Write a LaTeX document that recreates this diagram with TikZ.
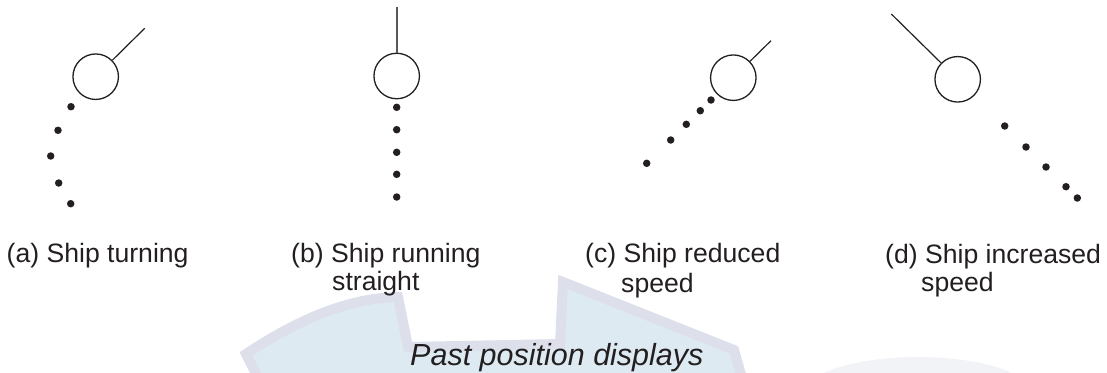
\documentclass[tikz,border=0pt]{standalone}
\usepackage{fontspec}
\setmainfont{Liberation Sans}
\definecolor{ink}{HTML}{231F20}
\definecolor{wmfill}{HTML}{DEEAF1}
\definecolor{wmband}{HTML}{DDE0EB}
\definecolor{wmfaint}{HTML}{F1F3F7}
\begin{document}
\begin{tikzpicture}[x=1pt,y=-1pt,
  ship/.style={circle,draw=ink,line width=1.3pt,minimum size=45.5pt,inner sep=0pt},
  pdot/.style={circle,fill=ink,minimum size=7.5pt,inner sep=0pt},
  hdg/.style={draw=ink,line width=1.2pt},
  hdgb/.style={draw=ink!75,line width=1.7pt},
  lbl/.style={font=\fontsize{26.6}{28.5}\selectfont,text=ink,anchor=base west,inner sep=0pt},
  ttl/.style={font=\fontsize{30.5}{32}\selectfont\itshape,text=ink,anchor=base west,inner sep=0pt}]
\useasboundingbox (0,0) rectangle (1107,372);
% faint watermark
\fill[wmfaint] (812,380) .. controls (850,352) and (960,350) .. (1010,372) -- (1010,380) -- cycle;
\path[fill=wmfill,draw=wmband,line width=10pt,line join=miter]
  (258,378) -- (246,354) .. controls (300,318) and (350,298) .. (398,297)
  -- (408,347) -- (560,344) -- (563,282) -- (734,350) -- (742,378) -- cycle;
% (a)
\node[ship] (ca) at (95.7,76.7) {};
\coordinate (ha) at (144.7,28.3);
\draw[hdg] (ca) -- (ha);
\node[pdot] (a1) at (71,106.7) {};
\node[pdot] (a2) at (58,130.3) {};
\node[pdot] (a3) at (50.7,156) {};
\node[pdot] (a4) at (58.7,183) {};
\node[pdot] (a5) at (70.7,203.7) {};
% (b)
\node[ship] (cb) at (396.7,76) {};
\coordinate (hb) at (396.7,7);
\draw[hdgb] (cb) -- (hb);
\node[pdot] (b1d) at (396.7,107.3) {};
\node[pdot] (b2d) at (396.7,129.7) {};
\node[pdot] (b3d) at (396.7,152.3) {};
\node[pdot] (b4d) at (396.7,174.3) {};
\node[pdot] (b5d) at (396.7,197) {};
% (c)
\node[ship] (cc) at (733.3,77.7) {};
\coordinate (hc) at (771,40.7);
\draw[hdg] (cc) -- (hc);
\node[pdot] (c1d) at (711,100) {};
\node[pdot] (c2d) at (700.3,110.7) {};
\node[pdot] (c3d) at (686.3,124.3) {};
\node[pdot] (c4d) at (670.7,140) {};
\node[pdot] (c5d) at (646.7,163.3) {};
% (d)
\node[ship] (cd) at (957.7,79.3) {};
\coordinate (hd) at (891.3,14);
\draw[hdg] (cd) -- (hd);
\node[pdot] (d1d) at (1004.7,126) {};
\node[pdot] (d2d) at (1026,147) {};
\node[pdot] (d3d) at (1046,167) {};
\node[pdot] (d4d) at (1066,186.7) {};
\node[pdot] (d5d) at (1077.3,198) {};
% labels
\node[lbl] (la) at (6.5,262.5) {(a) Ship turning};
\node[lbl] (lb1) at (291,262) {(b) Ship running};
\node[lbl] (lb2) at (332,290.5) {straight};
\node[lbl] (lc1) at (585,262.5) {(c) Ship reduced};
\node[lbl] (lc2) at (621,292) {speed};
\node[lbl] (ld1) at (885,263) {(d) Ship increased};
\node[lbl] (ld2) at (921,291.5) {speed};
\node[ttl] (title) at (410,365) {Past position displays};
\end{tikzpicture}
\end{document}
